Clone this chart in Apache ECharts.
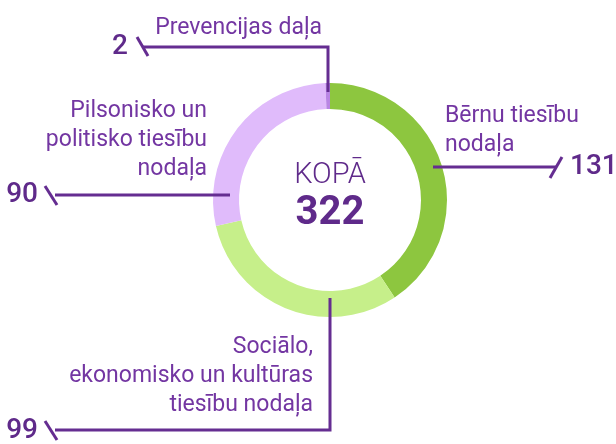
<!DOCTYPE html>
<html>
<head>
<meta charset="utf-8">
<script src="https://cdn.jsdelivr.net/npm/echarts@6/dist/echarts.min.js"></script>
<style>
html,body{margin:0;padding:0;background:#fff;}
#chart{width:616px;height:444px;}
</style>
</head>
<body>
<div id="chart"></div>
<script>
// nodaļas un lietu skaits
var categories = ['Bērnu tiesību\nnodaļa', 'Sociālo,\nekonomisko un kultūras\ntiesību nodaļa', 'Pilsonisko un\npolitisko tiesību\nnodaļa', 'Prevencijas daļa'];
var values = [131, 99, 90, 2];
var colors = ['#8dc63f', '#c6ef8a', '#e0bbfb', '#b985e4'];
var centerTitle = 'KOPĀ';

var total = values.reduce(function (a, b) { return a + b; }, 0);

var lineColor = '#652d91';
var textColor = '#7336a2';
var numColor = '#5f2a8a';
var font = 'Roboto';

// leader lines (annotations), one per category
var leaders = [
  { pts: [[433, 167], [556, 167]], slash: [[562, 157], [550, 178]],
    label: { x: 445, y: 102, align: 'left' }, num: { x: 570, y: 167, align: 'left' } },
  { pts: [[330, 298], [330, 430], [55, 430]], slash: [[45, 421], [57, 440]],
    label: { x: 313, y: 333, align: 'right' }, num: { x: 38, y: 431, align: 'right' } },
  { pts: [[230, 195], [55, 195]], slash: [[45, 186], [57, 205]],
    label: { x: 207, y: 97, align: 'right' }, num: { x: 38, y: 195, align: 'right' } },
  { pts: [[328, 92], [328, 47], [143, 47]], slash: [[137, 37], [148, 56]],
    label: { x: 322, y: 14, align: 'right' }, num: { x: 128, y: 47, align: 'right' } }
];

var graphics = [];
leaders.forEach(function (l, i) {
  graphics.push({ type: 'polyline', shape: { points: l.pts }, style: { stroke: lineColor, lineWidth: 3, fill: null }, z: 10 });
  graphics.push({ type: 'polyline', shape: { points: l.slash }, style: { stroke: lineColor, lineWidth: 3, fill: null }, z: 10 });
  graphics.push({ type: 'text', x: l.label.x, y: l.label.y,
    style: { text: categories[i], fill: textColor, font: '400 23px ' + font, align: l.label.align, verticalAlign: 'top', lineHeight: 29 } });
  graphics.push({ type: 'text', x: l.num.x, y: l.num.y,
    style: { text: String(values[i]), fill: numColor, font: '500 28px ' + font, align: l.num.align, verticalAlign: 'middle' } });
});
graphics.push({ type: 'text', x: 330, y: 176, style: { text: centerTitle, fill: numColor, font: '300 29px ' + font, align: 'center', verticalAlign: 'middle' } });
graphics.push({ type: 'text', x: 330, y: 214, style: { text: String(total), fill: numColor, font: '700 40px ' + font, align: 'center', verticalAlign: 'middle' } });

var chart = echarts.init(document.getElementById('chart'));
chart.setOption({
  animation: false,
  color: colors,
  series: [{
    type: 'pie',
    center: [330, 200],
    radius: [91, 117],
    startAngle: 90,
    clockwise: true,
    silent: true,
    label: { show: false },
    labelLine: { show: false },
    data: values.map(function (v, i) { return { name: categories[i], value: v }; })
  }],
  graphic: graphics
});
</script>
</body>
</html>
